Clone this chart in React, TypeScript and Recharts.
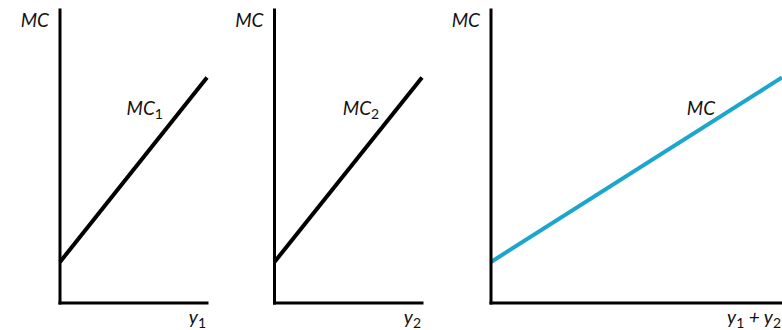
import React from "react";
import { LineChart, Line, XAxis, YAxis, ReferenceDot, Label } from "recharts";

// Output quantities and marginal cost values
const q1 = [0, 10];
const mc1 = [14, 77];
const q2 = [0, 10];
const mc2 = [14, 77];
const qSum = [0, 20];
const mcSum = [14, 77];

const FONT = 'Lato, "Open Sans", "DejaVu Sans", sans-serif';
const W = 782;
const H = 330;

type Part = { t: string; sub?: boolean };

function renderParts(parts: Part[]) {
  let lastSub = false;
  return parts.map((p, i) => {
    let dy = 0;
    if (p.sub && !lastSub) dy = 4;
    if (!p.sub && lastSub) dy = -4;
    lastSub = !!p.sub;
    return (
      <tspan
        key={i}
        dy={dy}
        fontSize={p.sub ? 14 : 19}
        fontStyle={p.sub ? "normal" : "italic"}
      >
        {p.t}
      </tspan>
    );
  });
}

function txt(x: number, y: number, parts: Part[], anchor: "start" | "end" = "end") {
  return (
    <text
      x={x}
      y={y}
      textAnchor={anchor}
      fontFamily={FONT}
      fontStyle="italic"
      fontSize={19}
      fill="#111"
    >
      {renderParts(parts)}
    </text>
  );
}

type PanelProps = {
  qs: number[];
  mcs: number[];
  xMax: number;
  color: string;
  left: number;
  right: number;
  curveLabel: Part[];
  curveAt: [number, number];
  xLabel: Part[];
};

function Panel({ qs, mcs, xMax, color, left, right, curveLabel, curveAt, xLabel }: PanelProps) {
  const data = qs.map((q, i) => ({ q, mc: mcs[i] }));
  const axisStyle = { stroke: "#000", strokeWidth: 3, strokeLinecap: "square" as const };
  return (
    <div style={{ position: "absolute", left: 0, top: 0 }}>
      <LineChart
        width={W}
        height={H}
        data={data}
        margin={{ top: 10, left: left - 1, right: W - right, bottom: 26 }}
      >
        <XAxis
          type="number"
          dataKey="q"
          domain={[0, xMax]}
          tick={false}
          tickLine={false}
          height={1}
          axisLine={axisStyle}
        >
          <Label
            content={(p: any) => {
              const vb = p.viewBox || {};
              return txt(vb.x + vb.width - 1, vb.y + 21, xLabel, "end");
            }}
          />
        </XAxis>
        <YAxis
          type="number"
          domain={[0, 100]}
          tick={false}
          tickLine={false}
          width={1}
          axisLine={axisStyle}
        >
          <Label
            content={(p: any) => {
              const vb = p.viewBox || {};
              return txt(vb.x + vb.width - 11, vb.y + 17, [{ t: "MC" }], "end");
            }}
          />
        </YAxis>
        <Line
          type="linear"
          dataKey="mc"
          stroke={color}
          strokeWidth={4}
          dot={false}
          activeDot={false}
          isAnimationActive={false}
        />
        <ReferenceDot
          x={curveAt[0]}
          y={curveAt[1]}
          r={0}
          fill="none"
          stroke="none"
        >
          <Label
            content={(p: any) => {
              const vb = p.viewBox || {};
              return txt(vb.x, vb.y, curveLabel, "end");
            }}
          />
        </ReferenceDot>
      </LineChart>
    </div>
  );
}

export default function App() {
  return (
    <div style={{ position: "absolute", left: 0, top: 0, width: W, height: H, background: "#fff", overflow: "hidden" }}>
      <Panel
        qs={q1}
        mcs={mc1}
        xMax={10}
        color="#000"
        left={60}
        right={207}
        curveLabel={[{ t: "MC" }, { t: "1", sub: true }]}
        curveAt={[7, 64]}
        xLabel={[{ t: "y" }, { t: "1", sub: true }]}
      />
      <Panel
        qs={q2}
        mcs={mc2}
        xMax={10}
        color="#000"
        left={274.5}
        right={422}
        curveLabel={[{ t: "MC" }, { t: "2", sub: true }]}
        curveAt={[7.1, 64]}
        xLabel={[{ t: "y" }, { t: "2", sub: true }]}
      />
      <Panel
        qs={qSum}
        mcs={mcSum}
        xMax={20}
        color="#1ca6cc"
        left={491}
        right={782}
        curveLabel={[{ t: "MC" }]}
        curveAt={[15.4, 64.2]}
        xLabel={[{ t: "y" }, { t: "1", sub: true }, { t: " + y" }, { t: "2", sub: true }]}
      />
    </div>
  );
}
